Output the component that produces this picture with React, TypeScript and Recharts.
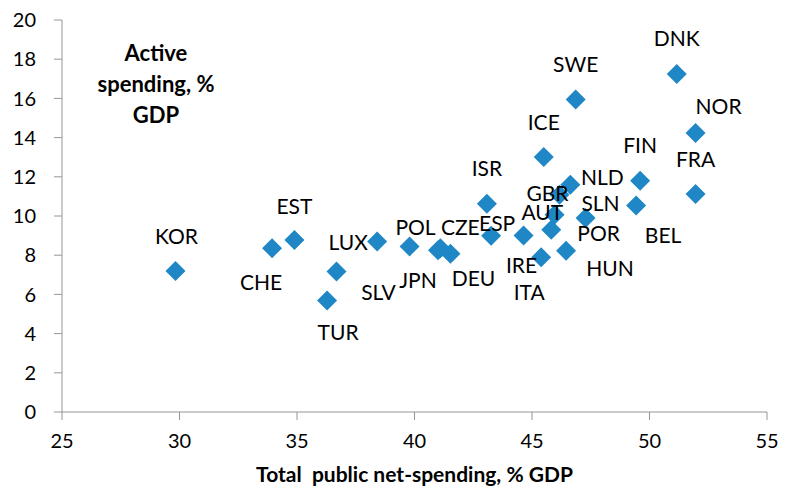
import React from 'react';
import { ScatterChart, Scatter, XAxis, YAxis, Label } from 'recharts';

const countries = ['KOR', 'CHE', 'EST', 'LUX', 'SLV', 'TUR', 'POL', 'CZE', 'JPN', 'DEU', 'ESP', 'ISR', 'ICE', 'IRE', 'ITA', 'AUT', 'SLN', 'GBR', 'NLD', 'POR', 'HUN', 'SWE', 'FIN', 'BEL', 'FRA', 'NOR', 'DNK'];
const totalSpending = [29.83, 33.94, 34.89, 38.41, 36.68, 36.28, 39.79, 41.1, 41.0, 41.53, 43.26, 43.08, 45.5, 44.64, 45.39, 45.82, 45.96, 46.17, 46.63, 47.28, 46.45, 46.86, 49.6, 49.43, 51.96, 51.96, 51.16];
const activeSpending = [7.2, 8.36, 8.77, 8.7, 7.17, 5.69, 8.45, 8.35, 8.25, 8.07, 8.99, 10.63, 13.01, 9.01, 7.89, 9.3, 10.07, 11.09, 11.6, 9.9, 8.23, 15.94, 11.8, 10.53, 11.12, 14.24, 17.25];
const xTicks = [25, 30, 35, 40, 45, 50, 55];
const yTicks = [0, 2, 4, 6, 8, 10, 12, 14, 16, 18, 20];

// where each country label sits relative to its marker (px)
const labelOffset: Record<string, [number, number]> = {
  KOR: [1, -35], CHE: [-11, 33], EST: [0, -35], LUX: [-29, 0], SLV: [42, 20],
  TUR: [11, 31], POL: [6, -20], CZE: [20, -22], JPN: [-20, 29], DEU: [23, 24],
  ESP: [6, -13], ISR: [0, -36], ICE: [0, -36], IRE: [-2, 29], ITA: [-12, 34],
  AUT: [-9, -18], SLN: [46, -12], GBR: [-12, -2], NLD: [32, -8], POR: [13, 15],
  HUN: [44, 17], SWE: [0, -36], FIN: [0, -36], BEL: [27, 29], FRA: [0, -36],
  NOR: [23, -27], DNK: [0, -36],
};

const data = countries.map((c, i) => ({ country: c, x: totalSpending[i], y: activeSpending[i] }));

const FONT = 'Lato, "Open Sans", sans-serif';
const AXIS = '#969696';
const BLUE = '#1f87c6';

const Diamond = (props: any) => {
  const { cx, cy } = props;
  const r = 10;
  return <polygon points={`${cx},${cy - r} ${cx + r},${cy} ${cx},${cy + r} ${cx - r},${cy}`} fill={BLUE} />;
};

const CountryLabel = (props: any) => {
  const { cx, cy, payload } = props;
  const [dx, dy] = labelOffset[payload.country] || [0, -30];
  return (
    <text x={cx + dx} y={cy + dy} textAnchor="middle" dominantBaseline="central" fontSize={21} fontFamily={FONT} fill="#000">
      {payload.country}
    </text>
  );
};

export default function App() {
  return (
    <div style={{ position: 'absolute', left: 0, top: 0, width: 787, height: 488, background: '#fff' }}>
      <ScatterChart width={787} height={488} margin={{ top: 20, right: 20, bottom: 0, left: 0 }}>
        <XAxis
          type="number"
          dataKey="x"
          domain={[25, 55]}
          ticks={xTicks}
          height={76}
          tickSize={8}
          tickMargin={14}
          stroke={AXIS}
          tick={{ fill: '#000', fontSize: 20, fontFamily: FONT }}
        >
          <Label
            value={'Total\u00a0 public net-spending, % GDP'}
            position="insideBottom"
            offset={6}
            style={{ fontSize: 21, fontWeight: 'bold', fontFamily: FONT, fill: '#000' }}
          />
        </XAxis>
        <YAxis
          type="number"
          dataKey="y"
          domain={[0, 20]}
          ticks={yTicks}
          width={62}
          tickSize={8}
          tickMargin={18}
          stroke={AXIS}
          tick={{ fill: '#000', fontSize: 20, fontFamily: FONT }}
        />
        <Scatter data={data} shape={<Diamond />} isAnimationActive={false} />
        <Scatter data={data} shape={<CountryLabel />} isAnimationActive={false} />
      </ScatterChart>
      <div
        style={{
          position: 'absolute', left: 81, top: 37, width: 150, textAlign: 'center',
          fontFamily: FONT, fontWeight: 'bold', fontSize: 22, lineHeight: '31px', color: '#000',
        }}
      >
        Active spending, % GDP
      </div>
    </div>
  );
}
